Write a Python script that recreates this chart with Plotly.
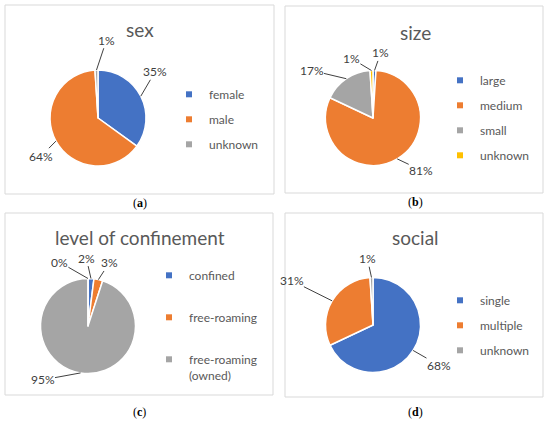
import math
import plotly.graph_objects as go

# data (percent shares)
sex_labels = ["female", "male", "unknown"]
sex_values = [35, 64, 1]

size_labels = ["large", "medium", "small", "unknown"]
size_values = [1, 81, 17, 1]

conf_labels = ["confined", "free-roaming", "free-roaming (owned)", "unknown"]
conf_values = [2, 3, 95, 0]

social_labels = ["single", "multiple", "unknown"]
social_values = [68, 31, 1]

colors = ["#4472C4", "#ED7D31", "#A5A5A5", "#FFC000"]

W, H = 550, 423

# panel layout: box, pie centre/radius, title/tag position, legend pos, gap, label nudges
panels = [
    dict(title="sex", tag="a", labels=sex_labels, values=sex_values,
         box=(5, 5, 274, 194), cx=98, cy=118, r=48, tx=140, ty=30, tagy=203,
         leg=(169, 80), gap=6,
         nudge=[(-12, 1.53), (-5, 1.43), (8, 1.63)]),
    dict(title="size", tag="b", labels=size_labels, values=size_values,
         box=(285, 6, 543, 193), cx=373, cy=118, r=47.5, tx=415, ty=32, tagy=202,
         leg=(440, 66), gap=6,
         nudge=[(5, 1.38), (-12, 1.49), (-18, 1.63), (-18, 1.33)]),
    dict(title="level of confinement", tag="c", labels=conf_labels, values=conf_values,
         box=(5, 213, 273, 395), cx=88, cy=326, r=47.5, tx=140, ty=237, tagy=412,
         leg=(149, 261), gap=23,
         nudge=[(-5, 1.43), (6, 1.40), (31, 1.48), (-24, 1.47)]),
    dict(title="social", tag="d", labels=social_labels, values=social_values,
         box=(285, 213, 543, 397), cx=373, cy=325, r=47.5, tx=415, ty=237, tagy=412,
         leg=(440, 286), gap=6,
         nudge=[(-1, 1.62), (-2, 1.95), (-3, 1.40)]),
]

FONT = "Lato, Open Sans, sans-serif"


def px(x, y):
    return x / W, 1 - y / H


fig = go.Figure()
shapes = []
annotations = []
legends = {}

for i, p in enumerate(panels):
    legname = "legend" if i == 0 else "legend%d" % (i + 1)
    cx, cy, r = p["cx"], p["cy"], p["r"]
    x0, y1 = px(cx - r, cy - r)
    x1, y0 = px(cx + r, cy + r)
    fig.add_trace(go.Pie(
        labels=p["labels"], values=p["values"], sort=False,
        direction="clockwise", rotation=0, textinfo="none",
        marker=dict(colors=colors[:len(p["labels"])], line=dict(color="white", width=1.5)),
        domain=dict(x=[x0, x1], y=[y0, y1]), showlegend=False,
    ))

    # legend entries
    for j, (lab, v) in enumerate(zip(p["labels"], p["values"])):
        if v <= 0:
            continue
        fig.add_trace(go.Scatter(
            x=[None], y=[None], mode="markers", name=lab.replace(" (", "<br>("),
            marker=dict(symbol="square", size=6, color=colors[j]),
            legend=legname, legendgroup="%s%d" % (p["tag"], j), showlegend=True,
        ))
    lx, ly = px(*p["leg"])
    legends[legname] = dict(x=lx, y=ly, xanchor="left", yanchor="top",
                            font=dict(family=FONT, size=12, color="#595959"),
                            tracegroupgap=p["gap"], itemwidth=30, valign="top",
                            bgcolor="rgba(0,0,0,0)")

    # panel border, title and tag
    bx0, by0, bx1, by1 = p["box"]
    shapes.append(dict(type="rect", xref="paper", yref="paper",
                       x0=bx0 / W, x1=bx1 / W, y0=1 - by1 / H, y1=1 - by0 / H,
                       line=dict(color="#D9D9D9", width=1)))
    tx, ty = px(p["tx"], p["ty"])
    annotations.append(dict(text=p["title"], x=tx, y=ty, xref="paper", yref="paper",
                            xanchor="center", yanchor="middle", showarrow=False,
                            font=dict(family=FONT, size=19, color="#595959")))
    gx, gy = px(p["tx"], p["tagy"])
    annotations.append(dict(text="(<b>%s</b>)" % p["tag"], x=gx, y=gy, xref="paper", yref="paper",
                            xanchor="center", yanchor="middle", showarrow=False,
                            font=dict(family="Liberation Serif", size=12, color="black")))

    # data labels with leader lines
    total = float(sum(p["values"]))
    cum = 0.0
    for j, v in enumerate(p["values"]):
        mid = 360 * (cum + v / 2) / total
        cum += v
        text = "%d%%" % round(100 * v / total)
        dth, f = p["nudge"][j]
        a = math.radians(mid + dth)
        lx_, ly_ = cx + f * r * math.sin(a), cy - f * r * math.cos(a)
        am = math.radians(mid)
        ex, ey = cx + r * math.sin(am), cy - r * math.cos(am)
        annotations.append(dict(text=text, x=lx_ / W, y=1 - ly_ / H, xref="paper", yref="paper",
                                xanchor="center", yanchor="middle", showarrow=False,
                                font=dict(family=FONT, size=12, color="#404040")))
        vx, vy = ex - lx_, ey - ly_
        hw, hh = 3.4 * len(text) + 2, 8
        t = min(hw / abs(vx) if vx else 1e9, hh / abs(vy) if vy else 1e9)
        bx, by = lx_ + vx * t, ly_ + vy * t
        if math.hypot(ex - bx, ey - by) > 6:
            shapes.append(dict(type="line", xref="paper", yref="paper",
                               x0=bx / W, y0=1 - by / H, x1=ex / W, y1=1 - ey / H,
                               line=dict(color="#404040", width=1)))

fig.update_layout(
    width=W, height=H, margin=dict(l=0, r=0, t=0, b=0),
    paper_bgcolor="white", plot_bgcolor="white",
    xaxis=dict(visible=False), yaxis=dict(visible=False),
    shapes=shapes, annotations=annotations, **legends,
)

# the page's default body margin would shift the figure by 8px
fig.write_html("out.html", config={"displayModeBar": False},
               post_script="document.body.style.margin = '0px';")
